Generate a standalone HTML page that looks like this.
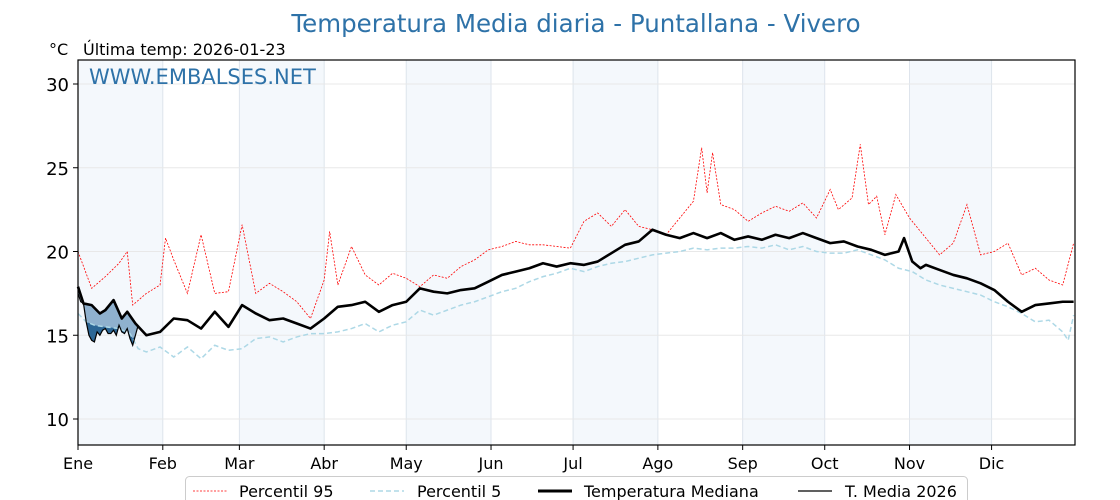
<!DOCTYPE html>
<html><head><meta charset="utf-8">
<style>
body{margin:0;background:#fff;}
svg{display:block;font-family:"DejaVu Sans","Liberation Sans",sans-serif;}
</style></head>
<body>
<svg id="chart" width="1120" height="500" viewBox="0 0 1120 500" xmlns="http://www.w3.org/2000/svg">
<text x="576" y="32" text-anchor="middle" font-size="24.5" fill="#2e72a8">Temperatura Media diaria - Puntallana - Vivero</text>
<text x="49" y="55" font-size="16" fill="#000">°C</text>
<text x="83" y="55" font-size="16" fill="#000">Última temp: 2026-01-23</text>
<g id="bands"></g><g id="grid"></g><g id="series"></g><g id="axes"></g>
<text x="89" y="84" font-size="21" fill="#2e72a8">WWW.EMBALSES.NET</text>
<g>
<rect x="185.5" y="476.5" width="782" height="30" rx="4" fill="#fff" stroke="#ccc"/>
<g><line x1="193" y1="491" x2="227" y2="491" stroke="#f00" stroke-width="0.8" stroke-dasharray="2,1.5"/><text x="239" y="497" font-size="16">Percentil 95</text></g>
<g><line x1="370" y1="491" x2="404" y2="491" stroke="#add8e6" stroke-width="1.5" stroke-dasharray="5,3"/><text x="417" y="497" font-size="16">Percentil 5</text></g>
<g><line x1="538" y1="491" x2="572" y2="491" stroke="#000" stroke-width="3"/><text x="584" y="497" font-size="16">Temperatura Mediana</text></g>
<g><line x1="798" y1="491" x2="832" y2="491" stroke="#000" stroke-width="1.2"/><text x="845" y="497" font-size="16">T. Media 2026</text></g>
</g>
</svg>
<script>
const months=["Ene","Feb","Mar","Abr","May","Jun","Jul","Ago","Sep","Oct","Nov","Dic"];
const monthStart=[0,31,59,90,120,151,181,212,243,273,304,334];
const yTicks=[10,15,20,25,30];
const medDays=[0,2,5,8,10,13,16,18,21,25,30,35,40,45,50,55,60,65,70,75,80,85,90,95,100,105,110,115,120,125,130,135,140,145,150,155,160,165,170,175,180,185,190,195,200,205,210,215,220,225,230,235,240,245,250,255,260,265,270,275,280,285,290,295,300,302,305,308,310,315,320,325,330,335,340,345,350,355,360,364];
const medVals=[17.9,16.9,16.8,16.3,16.5,17.1,16.0,16.4,15.7,15.0,15.2,16.0,15.9,15.4,16.4,15.5,16.8,16.3,15.9,16.0,15.7,15.4,16.0,16.7,16.8,17.0,16.4,16.8,17.0,17.8,17.6,17.5,17.7,17.8,18.2,18.6,18.8,19.0,19.3,19.1,19.3,19.2,19.4,19.9,20.4,20.6,21.3,21.0,20.8,21.1,20.8,21.1,20.7,20.9,20.7,21.0,20.8,21.1,20.8,20.5,20.6,20.3,20.1,19.8,20.0,20.8,19.4,19.0,19.2,18.9,18.6,18.4,18.1,17.7,17.0,16.4,16.8,16.9,17.0,17.0];
const p95Days=[0,5,10,15,18,20,25,30,32,35,40,45,50,55,60,65,70,75,80,85,90,92,95,100,105,110,115,120,125,130,135,140,145,150,155,160,165,170,175,180,185,190,195,200,205,210,215,220,225,228,230,232,235,240,245,250,255,260,265,270,275,278,283,286,289,292,295,299,304,310,315,320,325,330,335,340,345,350,355,360,364];
const p95Vals=[20.0,17.8,18.5,19.3,20.0,16.8,17.5,18.0,20.8,19.5,17.5,21.0,17.5,17.6,21.6,17.5,18.1,17.6,17.0,16.0,18.3,21.2,18.0,20.3,18.6,18.0,18.7,18.4,17.9,18.6,18.4,19.1,19.5,20.1,20.3,20.6,20.4,20.4,20.3,20.2,21.8,22.3,21.5,22.5,21.5,21.3,21.0,22.0,23.0,26.2,23.5,25.9,22.8,22.5,21.8,22.3,22.7,22.4,22.9,22.0,23.7,22.5,23.2,26.4,22.8,23.3,21.0,23.4,22.0,20.8,19.8,20.5,22.8,19.8,20.0,20.5,18.6,19.0,18.3,18.0,20.5];
const p5Days=[0,3,6,10,15,19,22,25,30,35,40,45,50,55,60,65,70,75,80,85,90,95,100,105,110,115,120,125,130,135,140,145,150,155,160,165,170,175,180,185,190,195,200,205,210,215,220,225,230,235,240,245,250,255,260,265,270,275,280,285,290,295,300,305,310,315,320,325,330,335,340,345,350,355,360,362,364];
const p5Vals=[16.3,15.8,15.6,15.5,15.4,15.1,14.2,14.0,14.3,13.7,14.3,13.6,14.4,14.1,14.2,14.8,14.9,14.6,14.9,15.1,15.1,15.2,15.4,15.7,15.2,15.6,15.8,16.5,16.2,16.5,16.8,17.0,17.3,17.6,17.8,18.2,18.5,18.7,19.0,18.8,19.1,19.3,19.4,19.6,19.8,19.9,20.0,20.2,20.1,20.2,20.2,20.3,20.2,20.4,20.1,20.3,20.0,19.9,19.9,20.1,19.8,19.5,19.0,18.8,18.3,18.0,17.8,17.6,17.4,17.0,16.7,16.3,15.8,15.9,15.2,14.7,16.2];
const t26Vals=[17.5,17.0,16.9,15.8,15.0,14.7,14.6,15.2,15.0,15.3,15.4,15.1,15.1,15.3,15.0,15.6,15.2,15.1,15.4,14.8,14.4,15.0,15.6];

(function(){
const X0=78,X1=1075,Y0=60,Y1=445;
const sx=d=>X0+d*(X1-X0)/364.5;
const sy=v=>84+(30-v)*16.75;
const NS="http://www.w3.org/2000/svg";
function mk(tag,attrs,parent){const e=document.createElementNS(NS,tag);for(const k in attrs)e.setAttribute(k,attrs[k]);parent.appendChild(e);return e;}
const bands=document.getElementById('bands'),grid=document.getElementById('grid'),ser=document.getElementById('series'),axes=document.getElementById('axes');
function interp(days,vals,d){for(let i=1;i<days.length;i++){if(d<=days[i]){const t=(d-days[i-1])/(days[i]-days[i-1]);return vals[i-1]+t*(vals[i]-vals[i-1]);}}return vals[vals.length-1];}

for(let i=0;i<12;i+=2){
 const end=i+1<12?monthStart[i+1]:364.5;
 const r=mk('rect',{x:sx(monthStart[i]),y:Y0,width:sx(end)-sx(monthStart[i]),height:Y1-Y0,fill:'#f4f8fc'},bands);
 
 
}
monthStart.forEach((d,i)=>{
 const l=mk('line',{x1:sx(d),x2:sx(d),y1:Y0,y2:Y1,stroke:'#dde4ec','stroke-width':1},grid);
 
 
 const t=mk('line',{x1:sx(d),x2:sx(d),y1:Y1,y2:Y1+5,stroke:'#000'},axes);
 
 
 const tx=mk('text',{x:sx(d),y:Y1+24,'text-anchor':'middle','font-size':16},axes);
 tx.textContent=months[i];
 
 
});
yTicks.forEach(v=>{
 const l=mk('line',{x1:X0,x2:X1,y1:sy(v),y2:sy(v),stroke:'#e8e8e8','stroke-width':1},grid);
 
 
 const t=mk('line',{x1:X0-5,x2:X0,y1:sy(v),y2:sy(v),stroke:'#000'},axes);
 
 
 const tx=mk('text',{x:X0-9,y:sy(v)+7,'text-anchor':'end','font-size':18},axes);
 tx.textContent=v;
 
 
});
const fr=mk('rect',{x:X0,y:Y0,width:X1-X0,height:Y1-Y0,fill:'none',stroke:'#000','stroke-width':1.2},axes);



const n=t26Vals.length;
let upper=[],lower=[];
for(let d=0;d<n;d++){const m=interp(medDays,medVals,d);upper.push(sx(d)+','+sy(Math.max(m,t26Vals[d])));lower.push(sx(d)+','+sy(t26Vals[d]));}
const f1=mk('polygon',{points:upper.concat(lower.reverse()).join(' '),fill:'#8fb1ce'},ser);


let da=[],db=[];
for(let d=0;d<n;d++){const p=interp(p5Days,p5Vals,d);const t=t26Vals[d];da.push(sx(d)+','+sy(Math.max(p,t)));db.push(sx(d)+','+sy(t));}
const f2=mk('polygon',{points:da.concat(db.reverse()).join(' '),fill:'#2c6796'},ser);



function pl(days,vals,attrs,name){
 const pts=days.map((d,i)=>sx(d)+','+sy(vals[i])).join(' ');
 const e=mk('polyline',Object.assign({points:pts,fill:'none'},attrs),ser);
 
 
}
pl(p5Days,p5Vals,{stroke:'#add8e6','stroke-width':1.5,'stroke-dasharray':'5,3'},'p5-line');
pl(p95Days,p95Vals,{stroke:'#f00','stroke-width':0.8,'stroke-dasharray':'2,1.5'},'p95-line');
pl(medDays,medVals,{stroke:'#000','stroke-width':2.6,'stroke-linejoin':'round'},'median-line');
pl(t26Vals.map((v,i)=>i),t26Vals,{stroke:'#000','stroke-width':1.2},'t2026-line');
})();
</script>
</body></html>
